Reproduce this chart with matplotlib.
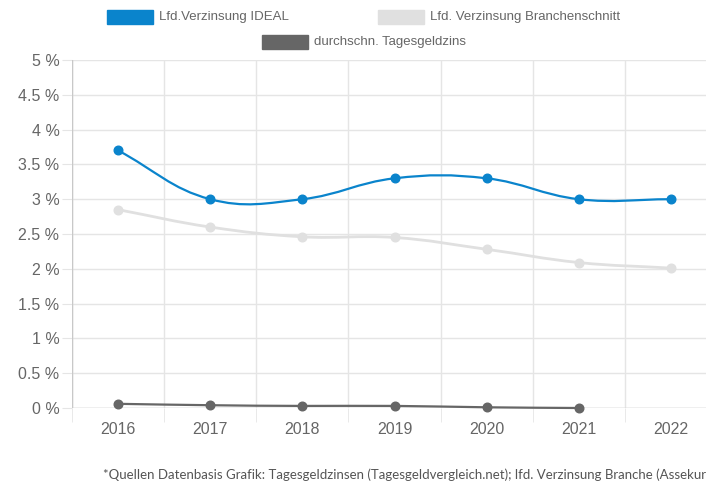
import matplotlib
matplotlib.use("Agg")
import matplotlib.pyplot as plt
from matplotlib.path import Path
from matplotlib.patches import PathPatch, Rectangle
import numpy as np

years = ["2016", "2017", "2018", "2019", "2020", "2021", "2022"]
ideal = [3.7, 3.0, 3.0, 3.3, 3.3, 3.0, 3.0]
branche = [2.85, 2.60, 2.46, 2.45, 2.28, 2.09, 2.01]
tagesgeld = [0.06, 0.04, 0.03, 0.03, 0.01, 0.00]
yticks = [0, 0.5, 1, 1.5, 2, 2.5, 3, 3.5, 4, 4.5, 5]
ytick_labels = ["0 %", "0.5 %", "1 %", "1.5 %", "2 %", "2.5 %", "3 %", "3.5 %", "4 %", "4.5 %", "5 %"]
series_names = ["Lfd.Verzinsung IDEAL", "Lfd. Verzinsung Branchenschnitt", "durchschn. Tagesgeldzins"]
footnote = "*Quellen Datenbasis Grafik: Tagesgeldzinsen (Tagesgeldvergleich.net); lfd. Verzinsung Branche (Assekurata)"

BLUE = "#0a84cc"
LIGHT = "#e0e0e0"
DARK = "#666666"
TXT = "#666666"

W, H = 706, 483
fig = plt.figure(figsize=(W / 100, H / 100), dpi=100)
ax_left, ax_right, ax_top, ax_bot = 72, 717, 60, 408
ax = fig.add_axes([ax_left / W, (H - ax_bot) / H, (ax_right - ax_left) / W, (ax_bot - ax_top) / H])
ax.set_xlim(-0.5, 6.5)
ax.set_ylim(0, 5)
for s in ax.spines.values():
    s.set_visible(False)

GRID = "#e5e5e5"
ax.set_yticks(yticks)
ax.set_yticklabels(ytick_labels, fontsize=11.5, color=TXT, family="Liberation Sans")
ax.tick_params(axis="y", length=7, color=GRID, pad=2)
ax.grid(axis="y", color=GRID, lw=1)
x = np.arange(len(years))
ax.set_xticks(x)
ax.set_xticklabels(years, fontsize=11.5, color=TXT, family="Liberation Sans")
ax.tick_params(axis="x", length=0, pad=10)
ax.set_xticks(np.arange(-0.5, 7, 1), minor=True)
ax.tick_params(axis="x", which="minor", length=10, color=GRID)
ax.grid(axis="x", which="minor", color=GRID, lw=1)
ax.axvline(-0.5, color="#c8c8c8", lw=1, zorder=1)
ax.axhline(0, color="#c8c8c8", lw=1, zorder=1)
ax.set_axisbelow(True)

# pixel scales for Chart.js-like splines
sx = (ax_right - ax_left) / 7.0
sy = (ax_bot - ax_top) / 5.0

def spline_path(xs, ys, t=0.4):
    pts = [(xv * sx, yv * sy) for xv, yv in zip(xs, ys)]
    n = len(pts)
    cps = []
    for i in range(n):
        p0 = pts[max(i - 1, 0)]
        p1 = pts[i]
        p2 = pts[min(i + 1, n - 1)]
        d01 = np.hypot(p1[0] - p0[0], p1[1] - p0[1])
        d12 = np.hypot(p2[0] - p1[0], p2[1] - p1[1])
        tot = d01 + d12
        s01 = d01 / tot if tot else 0
        s12 = d12 / tot if tot else 0
        fa, fb = t * s01, t * s12
        prev = (p1[0] - fa * (p2[0] - p0[0]), p1[1] - fa * (p2[1] - p0[1]))
        nxt = (p1[0] + fb * (p2[0] - p0[0]), p1[1] + fb * (p2[1] - p0[1]))
        cps.append((prev, nxt))
    verts = [(pts[0][0] / sx, pts[0][1] / sy)]
    codes = [Path.MOVETO]
    for i in range(1, n):
        c1 = cps[i - 1][1]
        c2 = cps[i][0]
        verts += [(c1[0] / sx, c1[1] / sy), (c2[0] / sx, c2[1] / sy), (pts[i][0] / sx, pts[i][1] / sy)]
        codes += [Path.CURVE4] * 3
    return Path(verts, codes)

for vals, col, lw, z in [(tagesgeld, DARK, 1.6, 3), (branche, LIGHT, 2.0, 4), (ideal, BLUE, 1.6, 5)]:
    xs = np.arange(len(vals))
    ax.add_patch(PathPatch(spline_path(xs, vals), fill=False, edgecolor=col, lw=lw, zorder=z, clip_on=False))
    ax.plot(xs, vals, "o", color=col, ms=6.2, zorder=z + 0.5, clip_on=False)

# legend
def legend_item(x0, y0, color, label):
    fig.patches.append(Rectangle((x0 / W, 1 - (y0 + 14) / H), 46 / W, 14 / H,
                                 transform=fig.transFigure, color=color, figure=fig))
    fig.text((x0 + 52) / W, 1 - (y0 + 7) / H, label, fontsize=9.5, color=TXT,
             family="Liberation Sans", va="center", ha="left")

legend_item(107, 10, BLUE, series_names[0])
legend_item(378, 10, LIGHT, series_names[1])
legend_item(262, 35, DARK, series_names[2])

fig.text(103 / W, 1 - 479 / H, footnote, fontsize=9.5, color="#555555", family="Lato",
         va="baseline", ha="left")

fig.savefig("out.png", dpi=100)
